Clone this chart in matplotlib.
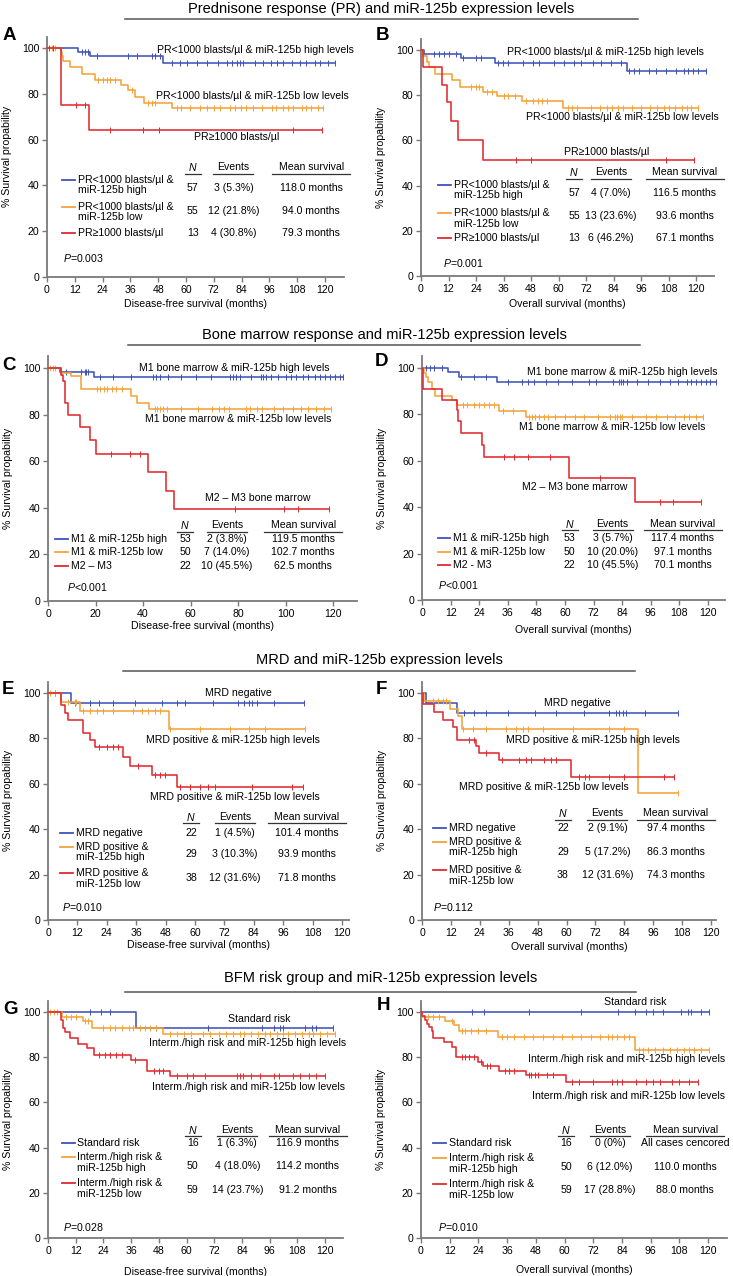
import numpy as np
import matplotlib
matplotlib.use('Agg')
import matplotlib.pyplot as plt
from matplotlib.lines import Line2D
from matplotlib.transforms import offset_copy

plt.rcParams['font.family'] = ['Liberation Sans', 'DejaVu Sans']
plt.rcParams['mathtext.fontset'] = 'custom'
plt.rcParams['mathtext.rm'] = 'Liberation Sans'
plt.rcParams['mathtext.it'] = 'Liberation Sans:italic'

W, H = 733, 1276
COLORS = ['#4152b8', '#f5a23a', '#e02a2f']
GREY = '#7a7a7a'

# ---------------- data (months, % survival) ----------------
# A: prednisone response, DFS
A_t = [[13.5, 18.5, 50],
       [6, 6.5, 7, 10, 15, 20.7, 32, 35, 38, 42, 54],
       [6, 18]]
A_s = [[98.2, 96.3, 93.6],
       [98.2, 96.4, 94.2, 91.7, 88.5, 85.9, 83.7, 81.5, 78.6, 76.0, 73.8],
       [75.0, 64.2]]
A_c = [[2.7, 15, 16.4, 17.8, 21.4, 35.1, 38.7, 45.2, 46.6, 48.8, 53.8, 57.4, 60.3, 64.6, 68.9, 73.7,
        77.5, 79.7, 81.9, 83.3, 84.7, 89.8, 93.4, 96.9, 99.1, 102, 105.6, 109.2, 112, 115.7, 117.8, 121.4, 124.3],
       [2, 3.5, 22, 24.3, 25.8, 27.2, 29.4, 36.5, 43.7, 45.2, 46.6, 56, 58, 61.7, 66, 69, 72, 74.6, 79, 81,
        83.9, 86, 89, 93, 97, 99, 102, 104, 106.3, 109.9, 112, 114, 117, 119.3],
       [1, 12.5, 16.4, 27, 41.6, 48.5, 106.3, 118.6]]
A_names = ['PR<1000 blasts/µl &\nmiR-125b high', 'PR<1000 blasts/µl &\nmiR-125b low', 'PR≥1000 blasts/µl']
A_n = [57, 55, 13]
A_events = ['3 (5.3%)', '12 (21.8%)', '4 (30.8%)']
A_mean = ['118.0 months', '94.0 months', '79.3 months']
A_curve = ['PR<1000 blasts/µl & miR-125b high levels', 'PR<1000 blasts/µl & miR-125b low levels',
           'PR≥1000 blasts/µl']
A_p = '0.003'

# B: prednisone response, OS
B_t = [[1.5, 17.5, 32.4, 90],
       [0.7, 2.5, 3.5, 6, 13.5, 17, 27, 33, 44, 62],
       [1, 9, 11.5, 13, 16, 27]]
B_s = [[98.2, 96.4, 94.4, 90.5],
       [97.5, 94.5, 92.5, 89.2, 86.7, 83.7, 81.6, 79.6, 77.4, 74.3],
       [92.3, 84.6, 76.9, 68.4, 60.0, 51.3]]
B_c = [[5.8, 8, 10.2, 12.4, 15.3, 18.2, 24, 26.2, 33.5, 35.6, 37.8, 44.4, 48.7, 51.6, 58.2, 62.5, 66.9,
        69.8, 74.9, 78.5, 82.9, 87.3, 90.9, 93.1, 95.3, 99.6, 102.5, 106.9, 111.3, 114.9, 116.4, 118.5,
        120.7, 124.4],
       [22, 24, 25.5, 29, 31, 36, 38, 41, 46, 49, 51, 53, 55, 64, 66, 68, 74, 78, 81, 83.5, 86, 88, 92, 96,
        100, 103, 106, 108, 111, 114, 116, 118, 120.7],
       [41.5, 48, 107, 119]]
B_names = A_names
B_n = [57, 55, 13]
B_events = ['4 (7.0%)', '13 (23.6%)', '6 (46.2%)']
B_mean = ['116.5 months', '93.6 months', '67.1 months']
B_curve = A_curve
B_p = '0.001'

# C: bone marrow response, DFS
C_t = [[5, 19.5],
       [5.5, 9.5, 14, 35, 37.5, 42.5],
       [5.5, 6.3, 7, 8.4, 13.3, 17.8, 20, 42, 49.8, 53]]
C_s = [[98.1, 96.0],
       [98.0, 96.5, 91.0, 88.0, 85.0, 82.6],
       [97.0, 94.5, 85.0, 80.0, 74.8, 69.0, 63.3, 55.3, 47.4, 39.5]]
C_c = [[5.6, 7.7, 14, 15.4, 16.1, 16.8, 21.8, 27.4, 35.1, 44.2, 45.6, 47, 50.5, 56.1, 62.5, 68.8, 76.5,
        77.9, 79.3, 80.7, 85.6, 89.8, 90.5, 91.9, 94, 96.8, 100.4, 102.5, 104.6, 107.4, 109.5, 112.3,
        114.4, 116.5, 118.6, 120.7, 122.8, 124.2],
       [1, 2, 3, 20.5, 22, 23.5, 25, 27, 28.5, 31, 45, 46, 47, 48.5, 50, 56, 63, 69, 72, 74, 76, 83.5, 85,
        88, 90, 95, 99, 103, 106.5, 109.5, 113, 116, 119],
       [26.5, 34.4, 38.6, 78.6, 99.3, 105.3, 118.2]]
C_names = ['M1 & miR-125b high', 'M1 & miR-125b low', 'M2 – M3']
C_n = [53, 50, 22]
C_events = ['2 (3.8%)', '7 (14.0%)', '10 (45.5%)']
C_mean = ['119.5 months', '102.7 months', '62.5 months']
C_curve = ['M1 bone marrow & miR-125b high levels', 'M1 bone marrow & miR-125b low levels',
           'M2 – M3 bone marrow']
C_p = '<0.001'

# D: bone marrow response, OS
D_t = [[10.8, 15.7, 31.5],
       [0.7, 1.5, 2.5, 4, 5.5, 12.5, 14.5, 32.5, 43.7],
       [0.5, 8.5, 14.5, 15.2, 16.5, 25, 26, 61.6, 89.2]]
D_s = [[98.1, 96.0, 93.9],
       [98.0, 96.0, 94.0, 91.0, 87.8, 86.0, 84.0, 81.6, 79.0],
       [90.9, 86.4, 81.8, 77.3, 72.0, 66.8, 61.5, 52.7, 42.2]]
D_c = [[1.5, 3.5, 5, 8.5, 16.5, 22, 27, 36, 42, 44.5, 47, 52, 57, 63, 70, 73, 80, 82.5, 83.5, 84.5, 86,
        90, 95, 100, 104, 107.5, 111, 113, 115, 117, 119, 121, 123.5],
       [17, 19, 22, 24, 26, 28, 30, 34, 38, 45, 46, 47.5, 49, 51, 53, 56, 60, 64, 68, 74, 79, 81, 82, 83, 84,
        88, 94, 98, 103, 106, 110, 112, 115, 118],
       [34.6, 38.8, 44.4, 53.5, 74.5, 99.7, 105.3, 117]]
D_names = ['M1 & miR-125b high', 'M1 & miR-125b low', 'M2 - M3']
D_n = [53, 50, 22]
D_events = ['3 (5.7%)', '10 (20.0%)', '10 (45.5%)']
D_mean = ['117.4 months', '97.1 months', '70.1 months']
D_curve = C_curve
D_p = '<0.001'

# E: MRD, DFS
E_t = [[9.5],
       [5.5, 13, 49.5],
       [5.5, 6.8, 8.2, 14.3, 17, 19.2, 30.7, 33.4, 42.3, 52.5]]
E_s = [[95.5],
       [96.2, 92.0, 84.0],
       [94.5, 91.3, 88.2, 82.2, 79.2, 76.1, 72.0, 68.0, 64.0, 58.6]]
E_c = [[2.7, 10.9, 17, 21, 26.6, 35.5, 46.4, 52.5, 55.9, 67.5, 77.7, 79.8, 81.9, 83.2, 85.3, 92.1, 104.4],
       [1, 3, 8.2, 10.9, 11.6, 14.3, 17, 19.8, 22.5, 26.6, 34.8, 38.2, 40.9, 43.7, 45.7, 49.8, 62, 74.4,
        81.9, 88.7, 104.8],
       [21, 24, 26.6, 28.6, 36.8, 43.7, 45.7, 47.7, 53.9, 58, 62, 65.5, 68.2, 83.2, 99.6, 103.9]]
E_names = ['MRD negative', 'MRD positive &\nmiR-125b high', 'MRD positive &\nmiR-125b low']
E_n = [22, 29, 38]
E_events = ['1 (4.5%)', '3 (10.3%)', '12 (31.6%)']
E_mean = ['101.4 months', '93.9 months', '71.8 months']
E_curve = ['MRD negative', 'MRD positive & miR-125b high levels', 'MRD positive & miR-125b low levels']
E_p = '0.010'

# F: MRD, OS
F_t = [[1.5, 14.5],
       [1, 11.5, 15, 16.5, 89.5],
       [0.5, 5.1, 8.6, 12.7, 14.4, 22.5, 23.5, 32, 62]]
F_s = [[95.5, 91.0],
       [96.5, 93.0, 90.0, 84.0, 56.0],
       [95.0, 91.5, 88.2, 84.9, 79.4, 76.5, 73.5, 70.3, 63.0]]
F_c = [[17.6, 21.7, 26.6, 35.6, 47, 55.6, 67.4, 77.8, 80.6, 82, 83.3, 84.7, 92.7, 106.2],
       [4.4, 6.5, 8.6, 10, 16.9, 21, 26.6, 34.9, 39, 41.8, 43.9, 50.1, 62.6, 77.8, 84, 106.2],
       [19.4, 21.7, 26.6, 33.2, 40.4, 43.2, 45.3, 50.8, 53.6, 55.6, 65.3, 67.8, 69.5, 77.8, 84, 100.6, 104.8]]
F_names = E_names
F_n = [22, 29, 38]
F_events = ['2 (9.1%)', '5 (17.2%)', '12 (31.6%)']
F_mean = ['97.4 months', '86.3 months', '74.3 months']
F_curve = E_curve
F_p = '0.112'

# G: BFM risk group, DFS
G_t = [[38.3],
       [6, 15, 19, 50],
       [5.5, 6.7, 7.5, 9.5, 13, 17, 20, 36, 43, 53]]
G_s = [[92.9],
       [97.9, 95.8, 93.1, 90.3],
       [96.6, 93.1, 91.2, 88.7, 86.0, 84.0, 81.0, 78.7, 74.0, 71.5]]
G_c = [[18, 23, 26.7, 47, 69.4, 92.5, 98, 100.5, 102, 111.5, 114.5, 116, 123.5],
       [1, 2.5, 4, 8, 10, 12, 16, 17.5, 24, 27, 29, 32, 35, 37, 40, 42, 44, 47, 53, 56, 59, 62, 67, 70, 74,
        77, 80, 83, 85, 88, 91, 94, 96, 99, 102, 104, 107, 110, 113, 115, 118, 121, 124.5],
       [22, 24.5, 27, 29.5, 32, 37.5, 46, 48, 50, 56, 60, 63, 68, 82, 83, 84.5, 88, 92, 98, 100, 106, 109,
        113, 116, 120]]
G_names = ['Standard risk', 'Interm./high risk &\nmiR-125b high', 'Interm./high risk &\nmiR-125b low']
G_n = [16, 50, 59]
G_events = ['1 (6.3%)', '4 (18.0%)', '14 (23.7%)']
G_mean = ['116.9 months', '114.2 months', '91.2 months']
G_curve = ['Standard risk', 'Interm./high risk and miR-125b high levels',
           'Interm./high risk and miR-125b low levels']
G_p = '0.028'

# H: BFM risk group, OS
H_t = [[],
       [0.5, 10, 14, 16, 32, 89.5],
       [0.5, 1.5, 2.5, 3.5, 4.5, 5.2, 9.5, 13, 14.5, 24, 26, 32.5, 43.7, 60.7]]
H_s = [[],
       [98.0, 96.0, 94.3, 91.5, 89.0, 83.4],
       [98.3, 96.6, 94.9, 93.2, 91.5, 88.7, 86.6, 84.7, 79.9, 78.0, 76.0, 74.0, 72.0, 69.0]]
H_c = [[21.3, 26.2, 45.3, 66.9, 82.3, 89.3, 94.2, 97, 101.1, 108.8, 111.6, 113, 117.2, 120.6],
       [3, 5, 7.5, 13, 17, 18.5, 21, 24, 27, 34, 36, 39, 43, 47, 51, 55, 59, 63, 67, 71, 75, 78, 80, 82, 85,
        87, 91, 93, 95, 98, 101, 104, 107, 110, 112, 114, 117, 120.6],
       [17, 18.5, 20, 22, 25, 27.5, 29, 35, 37, 39, 45, 46, 47.5, 49, 52.5, 55, 63, 66, 72, 80, 82, 84, 90,
        94, 97, 100, 105, 108, 112, 115.8]]
H_names = G_names
H_n = [16, 50, 59]
H_events = ['0 (0%)', '6 (12.0%)', '17 (28.8%)']
H_mean = ['All cases cencored', '110.0 months', '88.0 months']
H_curve = G_curve
H_p = '0.010'

SECTION_TITLES = ['Prednisone response (PR) and miR-125b expression levels',
                  'Bone marrow response and miR-125b expression levels',
                  'MRD and miR-125b expression levels',
                  'BFM risk group and miR-125b expression levels']

# ---------------- layout (pixels / data units) ----------------
# cal: x-pixel of month 0, x-pixel of month 120, y-pixel of 100 %, y-pixel of 0 %, xmax
LAYOUT = {
    'A': dict(cal=(47, 325, 48, 277, 128), letter=(3, 35), xl=27, ticks=12,
              curve=[(90, 99), (88.6, 79), (82, 61)],
              leg=(6.5, 12, 13.4), rows=[42.4, 30.6, 19.2], vals=[38.9, 28.8, 19.2], head=48,
              cols=[63, 80.5, 114], p=(7, 8.3)),
    'B': dict(cal=(421, 696, 50, 276, 128), letter=(376, 35), xl=28, ticks=12,
              curve=[(80.5, 99), (87.8, 70.3), (81, 54.9)],
              leg=(7.4, 13, 14.4), rows=[40.3, 27.9, 16.8], vals=[36.7, 26.5, 16.8], head=46,
              cols=[66.8, 83, 115], p=(9.6, 5.7)),
    'C': dict(cal=(48, 333, 368, 601, 130), letter=(2, 365), xl=25, ticks=20,
              curve=[(78.3, 100), (80, 78), (88.4, 44.2)],
              leg=(3, 8.5, 9.7), rows=[26.6, 21, 15], vals=[26.6, 21, 15], head=32.6,
              cols=[57.7, 75.4, 107.4], p=(8, 6)),
    'D': dict(cal=(422, 708, 368, 600, 127), letter=(375, 362), xl=30, ticks=12,
              curve=[(83.9, 98.3), (79.7, 74.6), (64.2, 48.7)],
              leg=(6.7, 11.7, 13), rows=[26.7, 20.7, 15], vals=[26.7, 20.7, 15], head=32.8,
              cols=[62, 80, 109.5], p=(6.7, 6.5)),
    'E': dict(cal=(48, 342, 693, 920, 123), letter=(2, 690), xl=25, ticks=12,
              curve=[(77.6, 100), (75.5, 79.3), (76.3, 54)],
              leg=(5, 10.3, 11.4), rows=[38.3, 32.2, 20.7], vals=[38.3, 29, 18.5], head=45.4,
              cols=[58.4, 76.3, 105.7], p=(5.7, 5.7)),
    'F': dict(cal=(422, 711, 693, 920, 122), letter=(376, 690), xl=27, ticks=12,
              curve=[(64.7, 95.6), (71, 79.3), (50.6, 58.6)],
              leg=(4.6, 10, 11.2), rows=[40.5, 34.4, 22], vals=[40.5, 30, 19.8], head=47,
              cols=[58.5, 77, 105.4], p=(4.6, 5.7)),
    'G': dict(cal=(48, 325, 1012, 1238, 128), letter=(3, 1009), xl=34, ticks=12,
              curve=[(91.3, 96.9), (86.6, 86.3), (87, 66.8)],
              leg=(6, 11.7, 12.5), rows=[42, 35.8, 24.3], vals=[42, 31.9, 21.2], head=47.8,
              cols=[62.7, 82, 112.5], p=(6.5, 4.9)),
    'H': dict(cal=(421, 708, 1012, 1238, 128), letter=(377, 1006), xl=32, ticks=12,
              curve=[(89.5, 104.4), (85.8, 79.2), (86.6, 63)],
              leg=(5, 10.5, 11.7), rows=[42, 35.4, 23.9], vals=[42, 31.4, 21.2], head=47.8,
              cols=[60.7, 79, 110.5], p=(7, 4.9)),
}
TITLE_POS = [(381, 9, 19), (384, 335, 345), (379, 660, 671), (381, 978, 992)]
TITLE_LINE = [(125, 638), (128, 640), (123, 635), (125, 636)]

FS = 7.6

fig = plt.figure(figsize=(W / 100, H / 100), dpi=100)


def draw_panel(key, t, s, c, names, n, events, mean, curve, pval, xlabel):
    lay = LAYOUT[key]
    x0, x120, y100, y0, xmax = lay['cal']
    pxm = (x120 - x0) / 120.0
    pxp = (y0 - y100) / 100.0
    axw, axh = pxm * xmax, pxp * 105
    ax = fig.add_axes([x0 / W, 1 - y0 / H, axw / W, axh / H])
    ax.set_xlim(0, xmax)
    ax.set_ylim(0, 105)

    for ti, si, ci, col in zip(t, s, c, COLORS):
        knots = [0] + list(ti)
        levels = [100] + list(si)
        end = max(ci + knots)
        ax.step(knots + [end], levels + [levels[-1]], where='post', color=col, lw=1.15,
                zorder=3, clip_on=False)
        idx = np.searchsorted(knots, ci, side='right') - 1
        ax.plot(ci, np.array(levels)[idx], ls='none', marker='|', ms=4.5, mew=0.7,
                color=col, zorder=3, clip_on=False)

    for (cx, cy), lab in zip(lay['curve'], curve):
        ax.text(cx, cy, lab, ha='center', va='center', fontsize=FS)

    # legend / table
    lx0, lx1, ltx = lay['leg']
    for i, col in enumerate(COLORS):
        yr = lay['rows'][i]
        ax.plot([lx0, lx1], [yr, yr], color=col, lw=1.3, clip_on=False)
        for j, line in enumerate(names[i].split('\n')):
            tr = offset_copy(ax.transData, fig=fig, y=-j * 7.6, units='points')
            ax.text(ltx, yr, line, transform=tr, va='center', fontsize=FS)
        for cx, txt in zip(lay['cols'], [str(n[i]), events[i], mean[i]]):
            ax.text(cx, lay['vals'][i], txt, ha='center', va='center', fontsize=FS)
    uy = lay['head'] - 6.5 / pxp
    for cx, txt, hw in zip(lay['cols'], [r'$N$', 'Events', 'Mean survival'], [8, 20, 39]):
        ax.text(cx, lay['head'], txt, ha='center', va='center', fontsize=FS)
        ax.plot([cx - hw / pxm, cx + hw / pxm], [uy, uy], color='#333333', lw=0.9, clip_on=False)
    ax.text(lay['p'][0], lay['p'][1], r'$P$' + ('=' if pval[0] != '<' else '') + pval,
            va='center', fontsize=FS)

    # axes styling
    for sp in ['top', 'right']:
        ax.spines[sp].set_visible(False)
    for sp in ['left', 'bottom']:
        ax.spines[sp].set_color(GREY)
        ax.spines[sp].set_linewidth(1.3)
    ax.set_xticks(np.arange(0, 121, lay['ticks']))
    ax.set_yticks(np.arange(0, 101, 20))
    ax.tick_params(direction='out', length=3.5, width=1, color=GREY, labelsize=FS, pad=2)
    ax.set_xlabel(xlabel, fontsize=FS)
    ax.xaxis.label.set_va('center')
    ax.xaxis.set_label_coords(0.5, -lay['xl'] / axh)
    ax.set_ylabel('% Survival propability', fontsize=FS)
    ax.yaxis.set_label_coords(-35 / axw, 0.5)
    fig.text(lay['letter'][0] / W, 1 - lay['letter'][1] / H, key, fontsize=13.5,
             fontweight='bold', va='center', ha='left')


DFS = 'Disease-free survival (months)'
OS = 'Overall survival (months)'
draw_panel('A', A_t, A_s, A_c, A_names, A_n, A_events, A_mean, A_curve, A_p, DFS)
draw_panel('B', B_t, B_s, B_c, B_names, B_n, B_events, B_mean, B_curve, B_p, OS)
draw_panel('C', C_t, C_s, C_c, C_names, C_n, C_events, C_mean, C_curve, C_p, DFS)
draw_panel('D', D_t, D_s, D_c, D_names, D_n, D_events, D_mean, D_curve, D_p, OS)
draw_panel('E', E_t, E_s, E_c, E_names, E_n, E_events, E_mean, E_curve, E_p, DFS)
draw_panel('F', F_t, F_s, F_c, F_names, F_n, F_events, F_mean, F_curve, F_p, OS)
draw_panel('G', G_t, G_s, G_c, G_names, G_n, G_events, G_mean, G_curve, G_p, DFS)
draw_panel('H', H_t, H_s, H_c, H_names, H_n, H_events, H_mean, H_curve, H_p, OS)

for title, (tx, ty, ly), (lx0, lx1) in zip(SECTION_TITLES, TITLE_POS, TITLE_LINE):
    fig.text(tx / W, 1 - ty / H, title, ha='center', va='center', fontsize=10.5)
    fig.add_artist(Line2D([lx0 / W, lx1 / W], [1 - ly / H, 1 - ly / H], color='#555555', lw=1.1))

fig.savefig('out.png', dpi=100)
